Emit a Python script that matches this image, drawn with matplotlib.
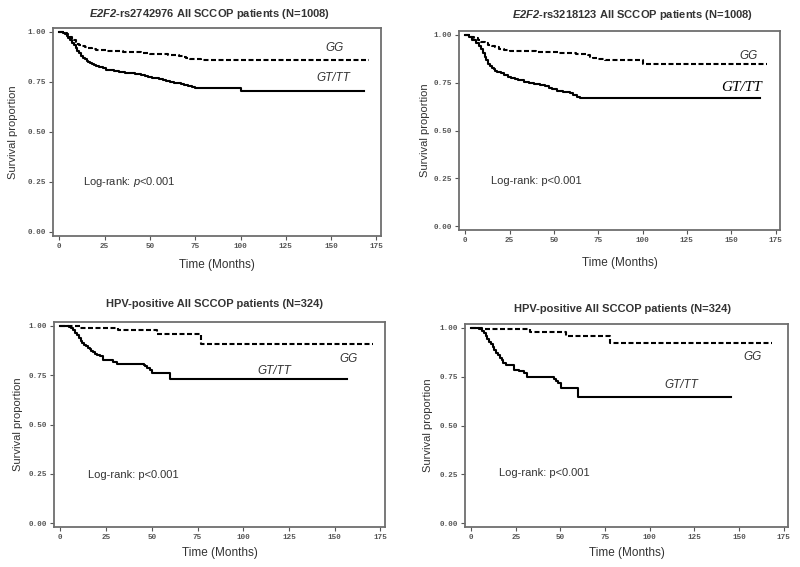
import numpy as np
import matplotlib
matplotlib.use("Agg")
import matplotlib.pyplot as plt

plt.rcParams["mathtext.fontset"] = "custom"
plt.rcParams["mathtext.rm"] = "Liberation Sans"
plt.rcParams["mathtext.it"] = "Liberation Sans:italic"
plt.rcParams["mathtext.bf"] = "Liberation Sans:bold"
plt.rcParams["mathtext.bfit"] = "Liberation Sans:bold:italic"

### Data ###

# Panel A: E2F2-rs2742976, all patients
a_gg_t = [0, 3, 4, 5, 6, 7, 8, 9, 10, 11, 12, 14, 16, 18, 20, 23, 26, 30, 35, 40, 45, 50,
          55, 60, 63, 66, 68, 70, 72, 75, 78, 171]
a_gg_s = [1.0, 0.995, 0.99, 0.983, 0.975, 0.967, 0.958, 0.95, 0.942, 0.935, 0.929, 0.923,
          0.919, 0.915, 0.912, 0.909, 0.906, 0.903, 0.90, 0.898, 0.895, 0.892, 0.889, 0.886,
          0.883, 0.879, 0.875, 0.871, 0.867, 0.863, 0.86, 0.86]
a_gt_t = [0, 2, 3, 4, 5, 6, 7, 8, 9, 10, 11, 12, 13, 14, 15, 16, 17, 18, 19, 20, 22, 24, 26,
          28, 30, 33, 36, 39, 42, 45, 47, 49, 51, 53, 55, 57, 59, 61, 63, 65, 67, 69, 71, 73,
          75, 100, 168]
a_gt_s = [1.0, 0.995, 0.99, 0.982, 0.972, 0.96, 0.947, 0.933, 0.92, 0.905, 0.893, 0.882,
          0.872, 0.865, 0.857, 0.851, 0.846, 0.841, 0.836, 0.831, 0.824, 0.818, 0.812, 0.808,
          0.805, 0.801, 0.797, 0.793, 0.789, 0.785, 0.781, 0.776, 0.771, 0.768, 0.765, 0.761,
          0.757, 0.752, 0.747, 0.743, 0.739, 0.734, 0.729, 0.725, 0.722, 0.707, 0.707]

# Panel B: E2F2-rs3218123, all patients
b_gg_t = [0, 3, 5, 7, 9, 11, 13, 15, 17, 19, 22, 25, 32, 40, 53, 62.5, 69, 70.5, 72, 75, 79,
          100, 170]
b_gg_s = [1.0, 0.99, 0.982, 0.974, 0.965, 0.955, 0.947, 0.94, 0.934, 0.928, 0.921, 0.916,
          0.913, 0.91, 0.906, 0.902, 0.895, 0.886, 0.878, 0.872, 0.868, 0.848, 0.848]
b_gt_t = [0, 2, 4, 6, 8, 9, 10, 11, 12, 13, 14, 15, 16, 17, 18, 20, 22, 24, 26, 28, 30, 33,
          36, 39, 42, 45, 47, 49, 52, 55, 59, 61, 63, 64.5, 166]
b_gt_s = [1.0, 0.99, 0.975, 0.958, 0.94, 0.925, 0.905, 0.885, 0.868, 0.85, 0.838, 0.828,
          0.82, 0.813, 0.807, 0.80, 0.79, 0.781, 0.774, 0.768, 0.762, 0.756, 0.75, 0.745,
          0.738, 0.73, 0.724, 0.716, 0.708, 0.70, 0.697, 0.688, 0.676, 0.668, 0.668]

# Panel C: HPV-positive, rs2742976
c_gg_t = [0, 10.5, 31.7, 52.8, 76.8, 170.7]
c_gg_s = [1.0, 0.99, 0.98, 0.96, 0.906, 0.906]
c_gt_t = [0, 4.5, 6, 7, 8, 9, 10, 11, 12, 13, 14, 15, 16, 17, 18, 19, 20, 21.5, 23.4, 29,
          30.8, 45.5, 46.5, 47.3, 49, 50, 59.8, 156.9]
c_gt_s = [1.0, 0.995, 0.988, 0.978, 0.965, 0.952, 0.938, 0.925, 0.915, 0.905, 0.897, 0.89,
          0.882, 0.874, 0.866, 0.858, 0.853, 0.85, 0.825, 0.817, 0.807, 0.804, 0.795, 0.785,
          0.775, 0.762, 0.733, 0.733]

# Panel D: HPV-positive, rs3218123
d_gg_t = [0, 6, 33, 53, 77.5, 168.8]
d_gg_s = [1.0, 0.995, 0.978, 0.96, 0.922, 0.922]
d_gt_t = [0, 4.5, 6, 7, 8, 9, 10, 11, 12, 13, 14, 15, 16, 17, 18, 19.2, 22, 23.9, 27, 29.5,
          31.4, 45.5, 46.5, 47.5, 48.4, 50.2, 59.7, 145.3]
d_gt_s = [1.0, 0.995, 0.985, 0.972, 0.96, 0.945, 0.93, 0.915, 0.9, 0.885, 0.872, 0.86,
          0.848, 0.835, 0.822, 0.81, 0.81, 0.784, 0.777, 0.767, 0.75, 0.75, 0.74, 0.728,
          0.716, 0.69, 0.647, 0.647]

titles = [
    r"$\mathbfit{E2F2}$-rs2742976 All SCCOP patients (N=1008)",
    r"$\mathbfit{E2F2}$-rs3218123 All SCCOP patients (N=1008)",
    "HPV-positive All SCCOP patients (N=324)",
    "HPV-positive All SCCOP patients (N=324)",
]
x_ticks = [0, 25, 50, 75, 100, 125, 150, 175]
y_ticks = [0.0, 0.25, 0.5, 0.75, 1.0]

### Layout ###

W, H = 800, 567
# frame boxes in pixels: left, right, top, bottom
boxes = [(53, 381, 28, 236), (459, 780, 31, 230), (54, 385, 322, 527), (465, 788, 324, 527)]
title_pos = [(210, 14), (633, 15), (215, 304), (622, 309)]
xlabel_y = [265, 263, 553, 553]
ylabel_x = [13, 425, 18, 428]

curves = [
    (a_gg_t, a_gg_s, a_gt_t, a_gt_s),
    (b_gg_t, b_gg_s, b_gt_t, b_gt_s),
    (c_gg_t, c_gg_s, c_gt_t, c_gt_s),
    (d_gg_t, d_gg_s, d_gt_t, d_gt_s),
]
gg_lbl = [(152, 0.92), (160, 0.889), (157.8, 0.834), (157.5, 0.85)]
gt_lbl = [(151, 0.77), (155.6, 0.723), (117, 0.773), (117.6, 0.707)]
lr_lbl = [(13.3, 0.248), (14.5, 0.238), (15.1, 0.242), (15.8, 0.255)]

txt_clr = "#333333"
fig = plt.figure(figsize=(W / 100, H / 100), dpi=100)

for i in range(4):
    l, r, t, b = boxes[i]
    ax = fig.add_axes([l / W, 1 - b / H, (r - l) / W, (b - t) / H])
    gg_t, gg_s, gt_t, gt_s = curves[i]
    ax.step(gg_t, gg_s, where="post", color="black", lw=1.5, linestyle=(0, (2.4, 1.2)))
    ax.step(gt_t, gt_s, where="post", color="black", lw=1.5)

    ax.set_xlim(-3.5, 177.5)
    ax.set_ylim(-0.02, 1.02)
    ax.set_xticks(x_ticks)
    ax.set_yticks(y_ticks)
    ax.set_xticklabels([str(v) for v in x_ticks])
    ax.set_yticklabels(["%.2f" % v for v in y_ticks])
    ax.tick_params(labelsize=5.5, length=3, width=0.8, colors="#555555", pad=2)
    for lab in ax.get_xticklabels() + ax.get_yticklabels():
        lab.set_fontfamily("Liberation Mono")
        lab.set_fontweight("bold")
    for sp in ax.spines.values():
        sp.set_color("#6e6e6e")
        sp.set_linewidth(1.3)

    # curve labels
    ax.text(*gg_lbl[i], "GG", fontsize=8.5, style="italic", color=txt_clr,
            ha="center", va="center", family="Liberation Sans")
    if i == 1:
        ax.text(*gt_lbl[i], "GT/TT", fontsize=11, style="italic", color="black",
                ha="center", va="center", family="Liberation Serif")
    else:
        ax.text(*gt_lbl[i], "GT/TT", fontsize=8.5, style="italic", color=txt_clr,
                ha="center", va="center", family="Liberation Sans")
    p_txt = r"Log-rank: $\it{p}$<0.001" if i == 0 else "Log-rank: p<0.001"
    ax.text(*lr_lbl[i], p_txt, fontsize=8, color=txt_clr, ha="left", va="center",
            family="Liberation Sans")

    # title and axis labels in figure coordinates
    fig.text(title_pos[i][0] / W, 1 - title_pos[i][1] / H, titles[i], fontsize=8,
             fontweight="bold", color=txt_clr, ha="center", va="center",
             family="Liberation Sans")
    fig.text((l + r) / 2 / W, 1 - xlabel_y[i] / H, "Time (Months)", fontsize=8.5,
             color=txt_clr, ha="center", va="center", family="Liberation Sans")
    fig.text(ylabel_x[i] / W, 1 - (t + b) / 2 / H, "Survival proportion", fontsize=8,
             color=txt_clr, ha="center", va="center", rotation=90,
             family="Liberation Sans")

fig.savefig("out.png", dpi=100)
